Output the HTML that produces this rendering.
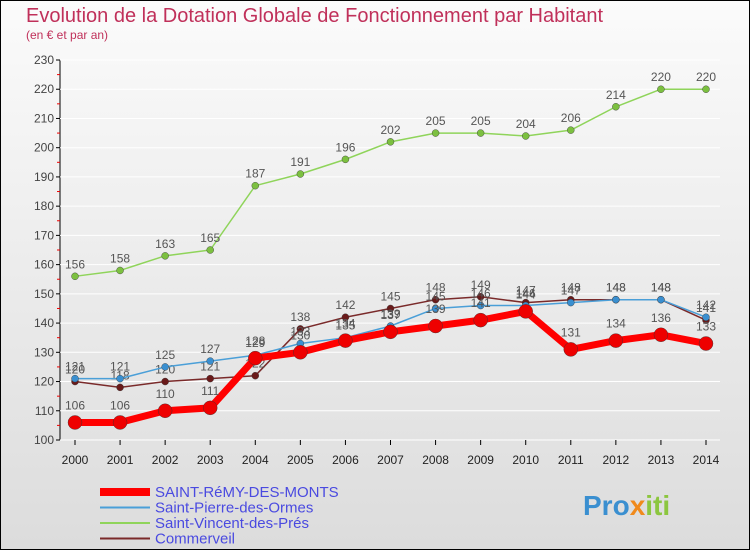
<!DOCTYPE html>
<html><head><meta charset="utf-8"><style>
body{margin:0}
#c{width:750px;height:550px;position:relative;font-family:"Liberation Sans",sans-serif}
</style></head><body>
<div id="c">
<svg id="s" width="750" height="550" xmlns="http://www.w3.org/2000/svg">
<defs><linearGradient id="bg" x1="0" y1="0" x2="0" y2="1"><stop offset="0" stop-color="#fbfbfb"/><stop offset="1" stop-color="#dcdcdc"/></linearGradient></defs>
<rect x="0.5" y="0.5" width="749" height="549" fill="url(#bg)" stroke="#000"/>
<text x="26" y="22" font-size="20" fill="#c0305a">Evolution de la Dotation Globale de Fonctionnement par Habitant</text>
<text x="26" y="39" font-size="12" fill="#c0305a">(en € et par an)</text>
<g id="axes"></g><g id="series"></g><g id="legend"></g>
<text x="583" y="515" font-size="28" font-weight="bold" fill="#3a8fd0">Pro<tspan fill="#f08a1c">x</tspan><tspan fill="#8cc63f">iti</tspan></text>
</svg></div>
<script>
const years=[2000,2001,2002,2003,2004,2005,2006,2007,2008,2009,2010,2011,2012,2013,2014];
const yTicks=[100,110,120,130,140,150,160,170,180,190,200,210,220,230];
const remy=[106,106,110,111,128,130,134,137,139,141,144,131,134,136,133];
const pierre=[121,121,125,127,129,133,135,139,145,146,146,147,148,148,142];
const vincent=[156,158,163,165,187,191,196,202,205,205,204,206,214,220,220];
const commerveil=[120,118,120,121,122,138,142,145,148,149,147,148,148,148,141];
const NS="http://www.w3.org/2000/svg";
const X=i=>75+i*(706-75)/(years.length-1);
const Y=v=>440-(v-100)*(380/130);
function mk(t,a,p){const e=document.createElementNS(NS,t);for(const k in a)e.setAttribute(k,a[k]);p.appendChild(e);return e;}
const ax=document.getElementById('axes');
const yl=mk('line',{x1:60,y1:60,x2:60,y2:440,stroke:'#000'},ax);


const xl=mk('line',{x1:60,y1:440,x2:720,y2:440,stroke:'#000'},ax);


yTicks.forEach(v=>{
 mk('line',{x1:56,y1:Y(v),x2:60,y2:Y(v),stroke:'#000'},ax);
 if(v<230)mk('line',{x1:57,y1:Y(v+5),x2:60,y2:Y(v+5),stroke:'#e00'},ax);
 mk('line',{x1:60,y1:Y(v),x2:720,y2:Y(v),stroke:'#fff','stroke-width':1},ax);
 const t=mk('text',{x:54,y:Y(v)+4,'font-size':12,fill:'#444','text-anchor':'end'},ax);t.textContent=v;
 
 
});
years.forEach((y,i)=>{
 mk('line',{x1:X(i),y1:440,x2:X(i),y2:445,stroke:'#000'},ax);
 const t=mk('text',{x:X(i),y:464,'font-size':12,fill:'#222','text-anchor':'middle'},ax);t.textContent=y;
 
 
});
const sg=document.getElementById('series');
const defs=[[vincent,'#8fd45a','#7cc040',1.5,3.5,'saint-vincent'],[commerveil,'#7a2a2a','#6a1a1a',1.5,3.5,'commerveil'],[pierre,'#4a9fd8','#3a8fd0',1.5,3.5,'saint-pierre'],[remy,'#ff0000','#ee0000',7,7,'saint-remy']];
defs.forEach(([d,c,dc,w,r,n])=>{
 const g=mk('g',{},sg);
 
 
 const p=mk('polyline',{points:d.map((v,i)=>X(i)+','+Y(v)).join(' '),fill:'none',stroke:c,'stroke-width':w,'stroke-linejoin':'round'},g);
 
 
 d.forEach((v,i)=>{
  const ci=mk('circle',{cx:X(i),cy:Y(v),r:r,fill:dc,stroke:'#333','stroke-width':0.4},g);
  
  
  const t=mk('text',{x:X(i),y:Y(v)-(n==='saint-remy'?13:8),'font-size':12,fill:'#555','text-anchor':'middle'},g);t.textContent=v;
  
  
 });
});
const lg=document.getElementById('legend');
const items=[['SAINT-RéMY-DES-MONTS','#ff0000',8],['Saint-Pierre-des-Ormes','#4a9fd8',2],['Saint-Vincent-des-Prés','#8fd45a',2],['Commerveil','#7a2a2a',2]];
items.forEach(([name,c,w],k)=>{
 const y=492+k*15.5;
 const g=mk('g',{},lg);
 
 
 mk('line',{x1:100,y1:y,x2:150,y2:y,stroke:c,'stroke-width':w},g);
 const t=mk('text',{x:155,y:y+5,'font-size':15,fill:'#4a4ae0'},g);t.textContent=name;
});
</script>
</body></html>
